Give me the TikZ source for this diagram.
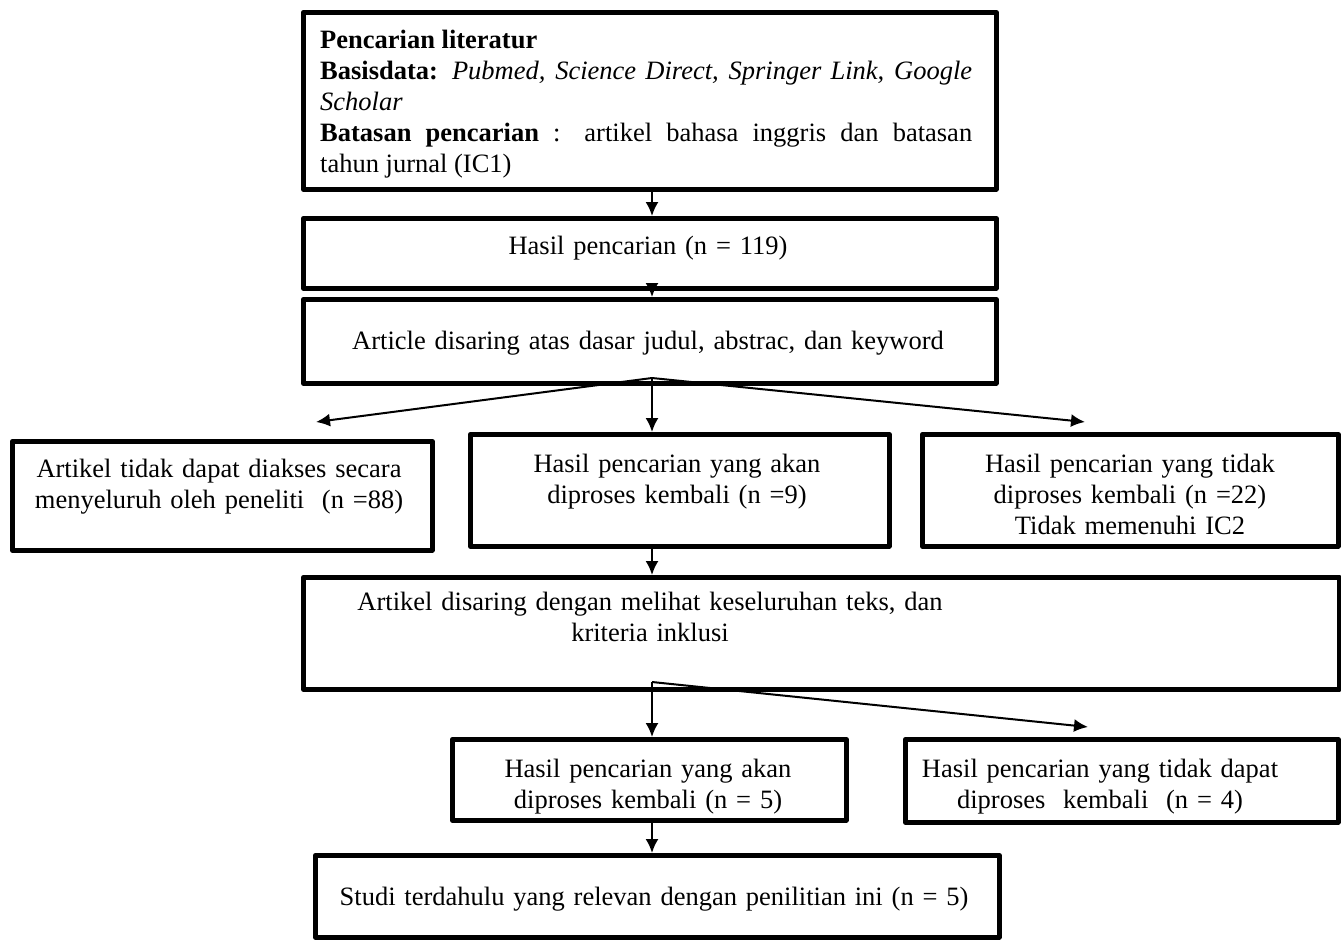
\documentclass[tikz,border=0pt]{standalone}
\usepackage{fontspec}
\setmainfont{Liberation Serif}
\usetikzlibrary{arrows.meta}
\begin{document}
\begin{tikzpicture}[x=1pt,y=-1pt,
  box/.style={draw, line width=4.5pt, line join=round, inner sep=0pt, anchor=north west},
  txt/.style={inner sep=0pt, anchor=base, align=center, text width=440pt,
              font=\fontsize{26.5}{31}\selectfont},
  arr/.style={line width=2pt, -{Latex[length=14pt,width=13pt]}}]
\useasboundingbox (0,0) rectangle (1341,940);

% boxes
\node[box, minimum width=693pt,  minimum height=177pt] (b1) at (301,10)  {};
\node[box, minimum width=693pt,  minimum height=70pt]  (b2) at (301,216) {};
\node[box, minimum width=693pt,  minimum height=84pt]  (b3) at (301,297) {};
\node[box, minimum width=420pt,  minimum height=109pt] (bl) at (10,439)  {};
\node[box, minimum width=419pt,  minimum height=112pt] (bm) at (468,432) {};
\node[box, minimum width=416pt,  minimum height=112pt] (br) at (920,432) {};
\node[box, minimum width=1036pt, minimum height=112pt] (b4) at (301,575) {};
\node[box, minimum width=394pt,  minimum height=81pt]  (b5) at (450,737) {};
\node[box, minimum width=433pt,  minimum height=83pt]  (b6) at (903,737) {};
\node[box, minimum width=684pt,  minimum height=82pt]  (b7) at (313,853) {};

% texts
\node[txt, text width=652pt, align=justify, anchor=base west] (t1) at (320,48)
  {\textbf{Pencarian literatur}\\
   \textbf{Basisdata:} \textit{Pubmed, Science Direct, Springer Link, Google}\linebreak
   \textit{Scholar}\\
   \textbf{Batasan pencarian} : artikel bahasa inggris dan batasan\linebreak
   tahun jurnal (IC1)};
\node[txt] (t2) at (648,254) {Hasil pencarian (n = 119)};
\node[txt, text width=660pt] (t3) at (648,349) {Article disaring atas dasar judul, abstrac, dan keyword};
\node[txt] (tl) at (219,477) {Artikel tidak dapat diakses secara\\menyeluruh oleh peneliti~ (n =88)};
\node[txt] (tm) at (677,472) {Hasil pencarian yang akan\\diproses kembali (n =9)};
\node[txt] (tr) at (1130,472) {Hasil pencarian yang tidak\\diproses kembali (n =22)\\Tidak memenuhi IC2};
\node[txt, text width=700pt] (t4) at (650,610) {Artikel disaring dengan melihat keseluruhan teks, dan\\kriteria inklusi};
\node[txt] (t5) at (648,777) {Hasil pencarian yang akan\\diproses kembali (n = 5)};
\node[txt] (t6) at (1100,777) {Hasil pencarian yang tidak dapat\\diproses~ kembali~ (n = 4)};
\node[txt, text width=660pt] (t7) at (654,905) {Studi terdahulu yang relevan dengan penilitian ini (n = 5)};

% connectors
\coordinate (ax) at (652,0);
\coordinate (f1) at (652,378);
\coordinate (lt) at (316,422);
\coordinate (rt) at (1085,422);
\coordinate (f2) at (652,682);
\coordinate (rt2) at (1088,727);

\draw[arr] (b1.south -| ax) -- (b2.north -| ax);
\draw[arr] (b2.south -| ax) -- (b3.north -| ax);
\draw[arr] (f1) -- (lt);
\draw[arr] (f1) -- (bm.north -| ax);
\draw[arr] (f1) -- (rt);
\draw[arr] (bm.south -| ax) -- (b4.north -| ax);
\draw[arr] (f2) -- (b5.north -| ax);
\draw[arr] (f2) -- (rt2);
\draw[arr] (b5.south -| ax) -- (b7.north -| ax);
\end{tikzpicture}
\end{document}
